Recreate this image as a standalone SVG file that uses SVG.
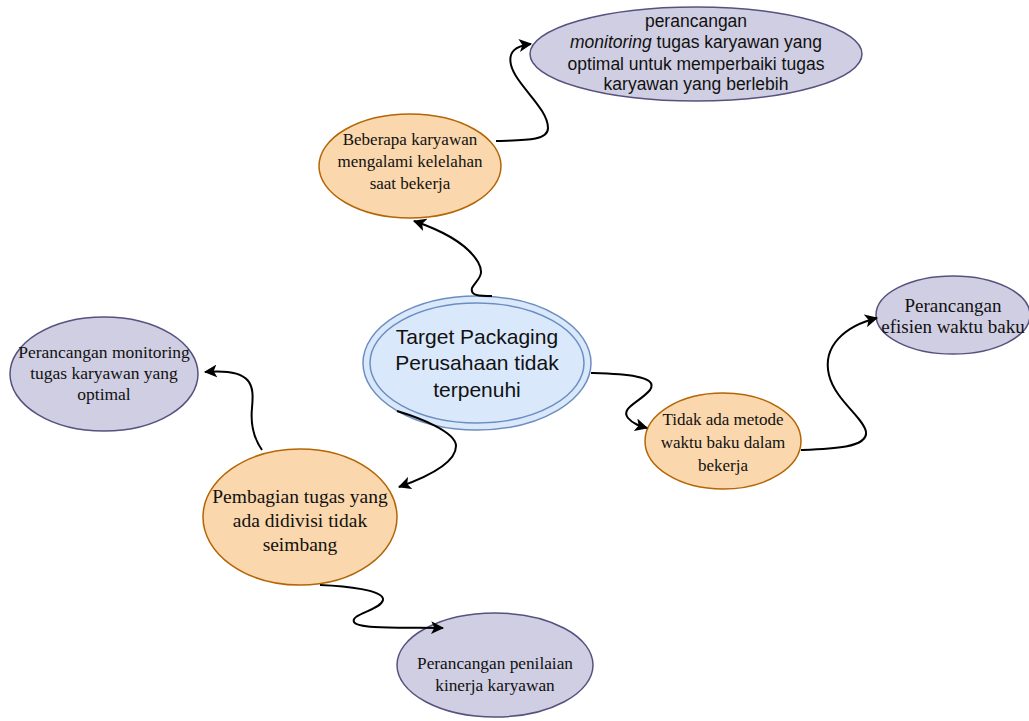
<svg xmlns="http://www.w3.org/2000/svg" width="1029" height="721" viewBox="0 0 1029 721">
<defs>
<marker id="arr" viewBox="0 0 12 12" refX="11" refY="6" markerWidth="13" markerHeight="13" markerUnits="userSpaceOnUse" orient="auto">
<path d="M0,0 L12,6 L0,12 L3,6 Z" fill="#000"/>
</marker>
</defs>
<style>
.or{fill:#fad7ac;stroke:#b46504;stroke-width:1.5}
.pu{fill:#d0cee2;stroke:#56517e;stroke-width:1.5}
.bl{fill:#dae8fc;stroke:#6c8ebf;stroke-width:1.5}
.serif{font-family:"Liberation Serif","Times New Roman",serif;fill:#111;text-anchor:middle}
.sans{font-family:"Liberation Sans",Arial,sans-serif;fill:#111;text-anchor:middle}
.con{fill:none;stroke:#000;stroke-width:2;marker-end:url(#arr)}
</style>
<rect width="1029" height="721" fill="#fff"/>
<g id="n-top">
<ellipse class="pu" cx="696" cy="54" rx="166" ry="47"/>
<text class="sans" font-size="17.5" x="696" y="27">perancangan</text>
<text class="sans" font-size="17.5" x="696" y="48"><tspan font-style="italic">monitoring</tspan> tugas karyawan yang</text>
<text class="sans" font-size="17.5" x="696" y="70">optimal untuk memperbaiki tugas</text>
<text class="sans" font-size="17.5" x="696" y="90">karyawan yang berlebih</text>
</g>
<g id="n-beberapa">
<ellipse class="or" cx="410" cy="166" rx="91" ry="52"/>
<text class="serif" font-size="17" x="410" y="145">Beberapa karyawan</text>
<text class="serif" font-size="17" x="410" y="167">mengalami kelelahan</text>
<text class="serif" font-size="17" x="410" y="189">saat bekerja</text>
</g>
<g id="n-center">
<ellipse class="bl" cx="477" cy="363" rx="114" ry="67"/>
<ellipse class="bl" cx="477" cy="363" rx="107" ry="60"/>
<text class="sans" font-size="21" x="477" y="344">Target Packaging</text>
<text class="sans" font-size="21" x="477" y="370">Perusahaan tidak</text>
<text class="sans" font-size="21" x="477" y="397">terpenuhi</text>
</g>
<g id="n-left">
<ellipse class="pu" cx="104" cy="374" rx="94" ry="57"/>
<text class="serif" font-size="17.5" x="104" y="358">Perancangan monitoring</text>
<text class="serif" font-size="17.5" x="104" y="379">tugas karyawan yang</text>
<text class="serif" font-size="17.5" x="104" y="400">optimal</text>
</g>
<g id="n-pembagian">
<ellipse class="or" cx="300" cy="517" rx="97" ry="68"/>
<text class="serif" font-size="19.5" x="300" y="503">Pembagian tugas yang</text>
<text class="serif" font-size="19.5" x="300" y="527">ada didivisi tidak</text>
<text class="serif" font-size="19.5" x="300" y="551">seimbang</text>
</g>
<g id="n-bottom">
<ellipse class="pu" cx="495" cy="665" rx="98" ry="52"/>
<text class="serif" font-size="17.3" x="495" y="669">Perancangan penilaian</text>
<text class="serif" font-size="17.3" x="495" y="691">kinerja karyawan</text>
</g>
<g id="n-tidak">
<ellipse class="or" cx="723" cy="441" rx="78" ry="48"/>
<text class="serif" font-size="17" x="723" y="425">Tidak ada metode</text>
<text class="serif" font-size="17" x="723" y="448">waktu baku dalam</text>
<text class="serif" font-size="17" x="723" y="471">bekerja</text>
</g>
<g id="n-efisien">
<ellipse class="pu" cx="953" cy="315" rx="77" ry="39"/>
<text class="serif" font-size="19" x="953" y="312">Perancangan</text>
<text class="serif" font-size="19" x="953" y="333">efisien waktu baku</text>
</g>
<g id="connectors">
<path class="con" d="M492,296 C480,296 470,296 472,288 C476,280 486,276 478,262 C466,242 440,230 414,221"/>
<path class="con" d="M496,141 C520,140 548,142 548,128 C548,108 516,85 511,65 C508,52 515,46 531,44"/>
<path class="con" d="M591,373 C620,374 660,375 650,390 C640,402 620,408 628,418 C633,424 640,426 647,428"/>
<path class="con" d="M801,450 C830,449 868,448 866,432 C864,418 835,400 829,375 C822,346 845,326 877,318"/>
<path class="con" d="M397,411 C420,418 456,432 456,446 C456,462 430,476 399,487"/>
<path class="con" d="M262,450 C255,440 250,428 252,408 C254,386 254,368 205,372"/>
<path class="con" d="M320,585 C345,586 385,590 383,600 C381,610 350,614 354,622 C358,630 410,627 443,628"/>
</g>
</svg>
